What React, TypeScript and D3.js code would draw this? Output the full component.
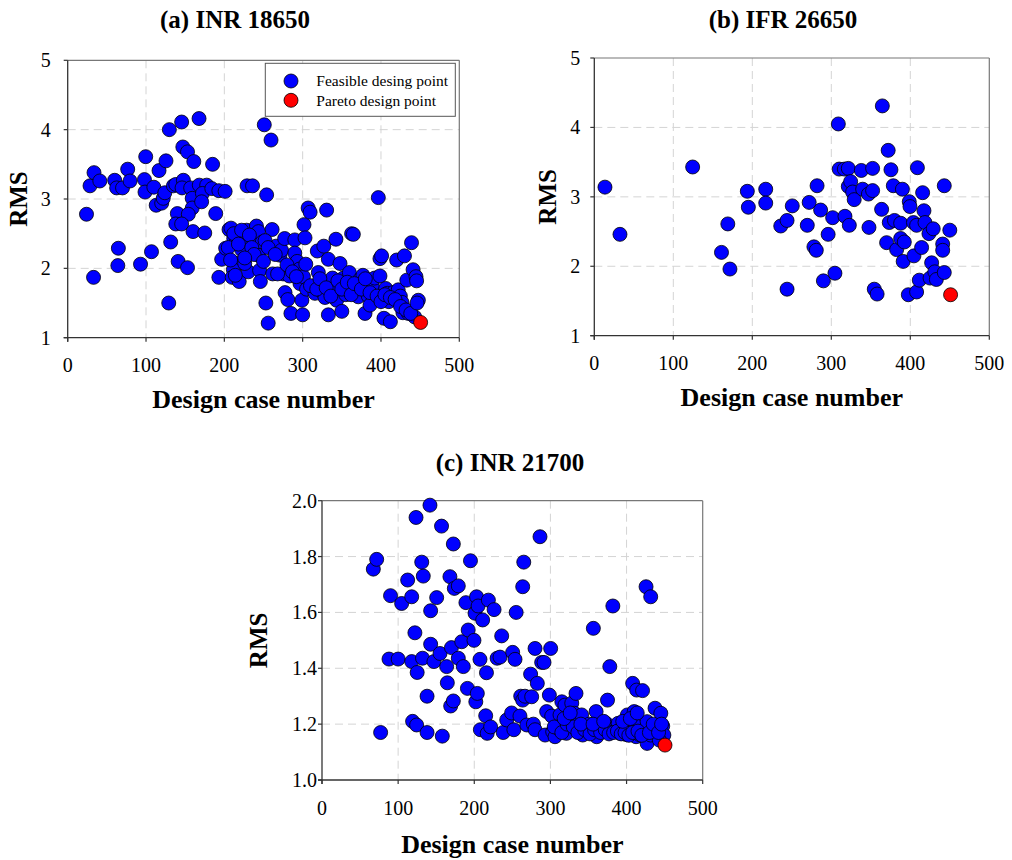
import React from "react";
import * as d3 from "d3";

// ---------- DATA ----------
const feasibleA: [number, number][] = [
  [24, 2.78], [28.5, 3.19], [33.6, 3.38], [41, 3.26], [33, 1.87], [60, 3.27], [62.5, 3.16], [70, 3.16],
  [76.6, 3.43], [79.6, 3.26], [64.7, 2.29], [64, 2.04], [93, 2.06], [98, 3.28], [99.6, 3.61], [98.7, 3.1],
  [110, 3.17], [107, 2.24], [116.6, 3.41], [125.5, 3.55], [129.8, 4.0], [145.5, 4.11], [167.7, 4.16],
  [113, 2.91], [120, 2.94], [122, 3.01], [124, 3.09], [131.5, 2.38], [129, 1.5], [135, 3.19], [138, 3.21],
  [147, 3.75], [153, 3.68], [161, 3.54], [147.7, 3.27], [146, 3.16], [157, 3.16], [159, 3.01], [159, 2.87],
  [140, 2.79], [154, 2.78], [138, 2.64], [145.5, 2.64], [160, 2.53], [175, 2.51], [141, 2.1], [153, 2.01],
  [168, 3.2], [177.5, 3.2], [172, 3.08], [171, 2.96], [184, 3.15], [185, 3.5], [189, 2.79], [193, 3.12],
  [201, 3.11], [193, 1.87], [196.6, 2.13], [201.7, 2.29], [206, 2.56], [208.5, 2.58], [212, 2.43],
  [215, 2.37], [218, 2.07], [211.5, 1.98], [210, 1.87], [219, 1.81], [222, 2.27], [226, 2.42], [228.5, 2.55],
  [229, 3.19], [236, 3.19], [230.6, 1.95], [226, 2.07], [237, 2.42], [241, 2.61], [240, 2.34], [243.6, 2.19],
  [245, 1.97], [246, 1.81], [243.6, 2.53], [248.5, 2.38], [251, 4.07], [259.6, 3.85], [254, 3.06], [253, 1.5],
  [256, 1.21], [261, 2.56], [261.7, 1.92], [266, 2.32], [271, 2.19], [273, 2.26], [275, 1.92], [277, 2.43],
  [277.5, 1.65], [281, 1.55], [285, 1.35], [283, 1.89], [290, 2.41], [290, 2.22], [293, 2.1], [296, 1.99],
  [296.6, 1.78], [299, 1.54], [300, 1.33], [301, 1.88], [301.7, 2.63], [303, 2.44], [304, 2.06], [307, 2.87],
  [309.5, 2.81], [305, 1.7], [315.7, 1.64], [318.7, 2.25], [320, 1.94], [324, 1.79], [327, 2.32], [325, 1.66],
  [328.5, 1.58], [330.6, 2.84], [332.8, 2.13], [332.8, 1.33], [335, 1.74], [338, 1.86], [341, 1.66],
  [342.5, 2.42], [343.4, 1.54], [347.7, 2.07], [350, 1.38], [352, 1.86], [354, 1.71], [355, 1.62],
  [359.6, 1.94], [362.5, 2.5], [364.7, 2.49], [364.7, 1.74], [368, 1.64], [371, 1.59], [373, 1.84],
  [377, 1.9], [379.6, 1.35], [381.7, 1.71], [383.8, 1.6], [386, 1.47], [389, 1.74], [392, 1.86],
  [396.6, 3.02], [398.7, 1.89], [398.7, 2.14], [400.8, 2.18], [402, 1.59], [403.8, 1.28], [406, 1.71],
  [408, 1.64], [410, 1.52], [412, 1.23], [415.7, 1.65], [420, 2.12], [422, 1.69], [424.7, 1.6], [426.8, 1.51],
  [428, 1.36], [430, 2.18], [433, 1.83], [435, 1.35], [439, 2.37], [441, 1.98], [443, 1.3], [444.7, 1.88],
  [445.5, 1.82], [447.7, 1.54],
  [205, 2.3], [212, 2.5], [218, 2.35], [222, 2.55], [232, 2.48], [235, 2.3], [238, 2.2], [250, 2.1],
  [208, 2.12], [214, 1.9], [226, 2.15], [252, 2.4], [256, 2.3], [265, 2.2], [268, 1.92], [280, 2.05],
  [287, 1.95], [292, 1.88], [310, 1.75], [318, 1.7], [322, 1.85], [330, 1.72], [336, 1.6], [345, 1.82],
  [350, 1.7], [357, 1.8], [362, 1.62], [366, 1.78], [375, 1.7], [380, 1.85], [386, 1.65], [395, 1.6],
  [400, 1.52], [405, 1.62], [412, 1.58], [418, 1.55], [425, 1.45], [432, 1.4], [438, 1.35], [446, 1.5],
];
const paretoA: [number, number][] = [[450.6, 1.22]];

const feasibleB: [number, number][] = [
  [13.5, 3.14], [32.5, 2.46], [124.5, 3.43], [161, 2.2], [169, 2.61], [171.7, 1.96], [193.7, 3.08],
  [195, 2.85], [217, 3.11], [217, 2.91], [236, 2.58], [244, 2.66], [244, 1.67], [250.6, 2.87], [269.6, 2.59],
  [272, 2.92], [278, 2.28], [281, 2.23], [282, 3.16], [286.5, 2.81], [290, 1.79], [296, 2.46], [301.7, 2.7],
  [304.6, 1.9], [308.9, 4.05], [310, 3.4], [316.5, 3.4], [317.3, 2.72], [321.5, 3.41], [322.8, 2.59],
  [321.5, 3.15], [324.5, 3.22], [327, 3.07], [329, 2.96], [338, 3.38], [339.7, 3.11], [347, 3.04],
  [347.7, 2.56], [352.3, 3.41], [352.3, 3.09], [354.4, 1.67], [358, 1.6], [363.7, 2.82], [364.6, 4.31],
  [372, 3.67], [370, 2.34], [373.4, 2.63], [375.5, 3.39], [378.5, 3.16], [380, 2.66], [382.7, 2.24],
  [387.8, 2.62], [390, 3.11], [387.8, 2.4], [392.4, 2.35], [391, 2.07], [398.7, 2.93], [399.6, 2.86],
  [397.5, 1.59], [404, 2.63], [404.6, 2.15], [408, 1.63], [408, 2.59], [409, 3.42], [411.4, 1.8],
  [414.3, 2.27], [415.6, 3.06], [417.3, 2.8], [418.6, 2.63], [423.6, 2.47], [425, 1.83], [427, 2.05],
  [429, 2.54], [431, 1.92], [433, 1.81], [441, 2.32], [441, 2.23], [443, 1.91], [443, 3.16], [450, 2.52],
];
const paretoB: [number, number][] = [[451, 1.59]];

const feasibleC: [number, number][] = [
  [67.4, 1.755], [71.8, 1.79], [77, 1.17], [90, 1.66], [88, 1.433], [100, 1.433], [104.6, 1.632],
  [112.5, 1.716], [117.8, 1.656], [117.8, 1.424], [122, 1.527], [125, 1.385], [123.5, 1.94], [119, 1.21],
  [124.3, 1.197], [131, 1.78], [133, 1.73], [132, 1.436], [138, 1.3], [138, 1.17], [141.8, 1.984],
  [142.7, 1.606], [142.7, 1.486], [147, 1.424], [150.6, 1.653], [155, 1.453], [157, 1.909], [158, 1.157],
  [163.7, 1.406], [164.6, 1.348], [168, 1.728], [169, 1.265], [170, 1.474], [172.5, 1.283], [172.5, 1.845],
  [173.8, 1.686], [179, 1.695], [179, 1.436], [183.5, 1.495], [185.6, 1.406], [189, 1.635], [191, 1.328],
  [192, 1.537], [195, 1.785], [199.6, 1.5], [201, 1.597], [202, 1.28], [203, 1.656], [204, 1.31],
  [205, 1.623], [207.5, 1.432], [211, 1.573], [208, 1.18], [215, 1.23], [216, 1.384], [218.5, 1.644],
  [217, 1.167], [221.5, 1.19], [226, 1.61], [230, 1.436], [233.8, 1.44], [236, 1.516], [238, 1.17],
  [242.6, 1.215], [249, 1.24], [250.4, 1.457], [253.5, 1.432], [255, 1.6], [252, 1.18], [260, 1.229],
  [261, 1.3], [263.6, 1.286], [263.6, 1.692], [265, 1.78], [266.6, 1.3], [269, 1.197], [274, 1.379],
  [275.4, 1.298], [277.6, 1.2], [279.8, 1.471], [279.8, 1.18], [282.8, 1.346], [286.3, 1.871],
  [288.5, 1.421], [291.6, 1.421], [293, 1.161], [295, 1.245], [298.6, 1.304], [300.3, 1.471],
  [301.7, 1.229], [303, 1.173], [306, 1.155], [310.4, 1.185], [312.6, 1.233], [315, 1.28], [317, 1.205],
  [319, 1.268], [321, 1.167], [325.7, 1.215], [328, 1.275], [331.4, 1.239], [333.6, 1.31], [334.5, 1.18],
  [339, 1.22], [341, 1.233], [342.4, 1.161], [348, 1.19], [351, 1.2], [354, 1.173], [356.4, 1.543],
  [360, 1.245], [360.8, 1.155], [364, 1.19], [369.5, 1.173], [373, 1.203], [375, 1.286], [378, 1.406],
  [382, 1.623], [380.6, 1.173], [385, 1.185], [389, 1.203], [391.4, 1.167], [395.8, 1.197], [399.3, 1.163],
  [401, 1.233], [404.6, 1.18], [408, 1.346], [410, 1.245], [411, 1.197], [412.5, 1.155], [413.3, 1.322],
  [417.7, 1.161], [421, 1.32], [424, 1.18], [425.6, 1.692], [427, 1.209], [427, 1.131], [431.7, 1.656],
  [431.7, 1.161], [437.4, 1.257], [439.6, 1.185], [445, 1.239], [447.5, 1.193], [449, 1.161], [443, 1.143],
  [305, 1.19], [315, 1.17], [322, 1.2], [330, 1.19], [336, 1.17], [345, 1.18], [352, 1.165], [358, 1.18],
  [366, 1.17], [372, 1.18], [377, 1.165], [383, 1.17], [388, 1.175], [393, 1.165], [398, 1.17], [403, 1.16],
  [408, 1.17], [415, 1.175], [420, 1.16], [430, 1.17], [435, 1.2], [442, 1.17], [446, 1.2], [318, 1.22],
  [326, 1.24], [340, 1.2], [356, 1.2], [370, 1.21], [395, 1.21], [405, 1.22], [414, 1.24],
];
const paretoC: [number, number][] = [[450.5, 1.125]];

const xTicks = [0, 100, 200, 300, 400, 500];
const yTicksAB = [1, 2, 3, 4, 5];
const yTicksC = [1.0, 1.2, 1.4, 1.6, 1.8, 2.0];

const titleA = "(a) INR 18650";
const titleB = "(b) IFR 26650";
const titleC = "(c) INR 21700";
const xLabel = "Design case number";
const yLabel = "RMS";
const legendLabels = ["Feasible desing point", "Pareto design point"];

// ---------- COMPONENTS ----------
const FONT = "'Liberation Serif', 'Times New Roman', serif";
const BLUE = "#0000ff";
const RED = "#ff0000";
const R = 7;

type PanelProps = {
  feasible: [number, number][];
  pareto: [number, number][];
  yDomain: [number, number];
  yTicks: number[];
  yFmt: (v: number) => string;
  left: number; right: number; top: number; bottom: number;
  title: string; titleX: number; titleY: number;
  yLabelX: number; xLabelY: number; xTickY: number; yTickGap: number;
  legend?: boolean;
};

function Panel(p: PanelProps) {
  const x = d3.scaleLinear().domain([0, 500]).range([p.left, p.right]);
  const y = d3.scaleLinear().domain(p.yDomain).range([p.bottom, p.top]);
  const cx = (p.left + p.right) / 2;
  const cy = (p.top + p.bottom) / 2;
  const lx = p.right - 194;
  const ly = p.top + 3;
  return (
    <g>
      <text x={p.titleX} y={p.titleY} textAnchor="middle" fontFamily={FONT} fontWeight="bold" fontSize={25}>{p.title}</text>
      {/* grid */}
      {xTicks.slice(1, -1).map((t) => (
        <line key={"gx" + t} x1={x(t)} x2={x(t)} y1={p.top} y2={p.bottom} stroke="#d4d4d4" strokeWidth={1} strokeDasharray="8,5" />
      ))}
      {p.yTicks.slice(1, -1).map((t) => (
        <line key={"gy" + t} x1={p.left} x2={p.right} y1={y(t)} y2={y(t)} stroke="#d4d4d4" strokeWidth={1} strokeDasharray="8,5" />
      ))}
      {/* frame */}
      <line x1={p.left} x2={p.right} y1={p.top} y2={p.top} stroke="#777" strokeWidth={1.2} />
      <line x1={p.right} x2={p.right} y1={p.top} y2={p.bottom} stroke="#777" strokeWidth={1.2} />
      <line x1={p.left} x2={p.left} y1={p.top} y2={p.bottom + 4} stroke="#333" strokeWidth={1.3} />
      <line x1={p.left - 4} x2={p.right} y1={p.bottom} y2={p.bottom} stroke="#333" strokeWidth={1.3} />
      {/* ticks */}
      {xTicks.map((t) => (
        <g key={"xt" + t}>
          <line x1={x(t)} x2={x(t)} y1={p.bottom} y2={p.bottom + 4} stroke="#333" strokeWidth={1.2} />
          <text x={x(t)} y={p.xTickY} textAnchor="middle" fontFamily={FONT} fontSize={20}>{t}</text>
        </g>
      ))}
      {p.yTicks.map((t) => (
        <g key={"yt" + t}>
          <line x1={p.left - 4} x2={p.left} y1={y(t)} y2={y(t)} stroke="#333" strokeWidth={1.2} />
          <text x={p.left - p.yTickGap} y={y(t) + 7} textAnchor="end" fontFamily={FONT} fontSize={20}>{p.yFmt(t)}</text>
        </g>
      ))}
      {/* labels */}
      <text x={cx} y={p.xLabelY} textAnchor="middle" fontFamily={FONT} fontWeight="bold" fontSize={26}>{xLabel}</text>
      <text transform={`translate(${p.yLabelX},${cy}) rotate(-90)`} textAnchor="middle" dominantBaseline="central" fontFamily={FONT} fontWeight="bold" fontSize={25}>{yLabel}</text>
      {/* points */}
      {p.feasible.map((d, i) => (
        <circle key={"f" + i} cx={x(d[0])} cy={y(d[1])} r={R} fill={BLUE} stroke="#000" strokeWidth={0.8} />
      ))}
      {p.pareto.map((d, i) => (
        <circle key={"p" + i} cx={x(d[0])} cy={y(d[1])} r={R} fill={RED} stroke="#000" strokeWidth={0.8} />
      ))}
      {p.legend && (
        <g>
          <rect x={lx} y={ly} width={190} height={53} fill="#fff" stroke="#555" strokeWidth={1} />
          <circle cx={lx + 25.7} cy={ly + 17.7} r={R} fill={BLUE} stroke="#000" strokeWidth={0.8} />
          <circle cx={lx + 25.7} cy={ly + 37} r={R} fill={RED} stroke="#000" strokeWidth={0.8} />
          <text x={lx + 51} y={ly + 23} fontFamily={FONT} fontSize={15.5}>{legendLabels[0]}</text>
          <text x={lx + 51} y={ly + 42.5} fontFamily={FONT} fontSize={15.5}>{legendLabels[1]}</text>
        </g>
      )}
    </g>
  );
}

export default function App() {
  const fmtInt = (v: number) => d3.format("d")(v);
  const fmt1 = (v: number) => d3.format(".1f")(v);
  return (
    <svg width={1012} height={860} style={{ position: "absolute", left: 0, top: 0, background: "#fff" }}>
      <rect width={1012} height={860} fill="#fff" />
      <Panel feasible={feasibleA} pareto={paretoA} yDomain={[1, 5]} yTicks={yTicksAB} yFmt={fmtInt}
        left={67.7} right={459.3} top={60.3} bottom={337.7}
        title={titleA} titleX={235} titleY={28} yLabelX={18} xLabelY={408} xTickY={372} yTickGap={17} legend />
      <Panel feasible={feasibleB} pareto={paretoB} yDomain={[1, 5]} yTicks={yTicksAB} yFmt={fmtInt}
        left={594.3} right={989.3} top={58} bottom={335.7}
        title={titleB} titleX={783} titleY={28} yLabelX={547} xLabelY={406} xTickY={370} yTickGap={14} />
      <Panel feasible={feasibleC} pareto={paretoC} yDomain={[1, 2]} yTicks={yTicksC} yFmt={fmt1}
        left={322} right={702.7} top={500.7} bottom={780}
        title={titleC} titleX={510} titleY={471} yLabelX={258} xLabelY={853} xTickY={815} yTickGap={5} />
    </svg>
  );
}
